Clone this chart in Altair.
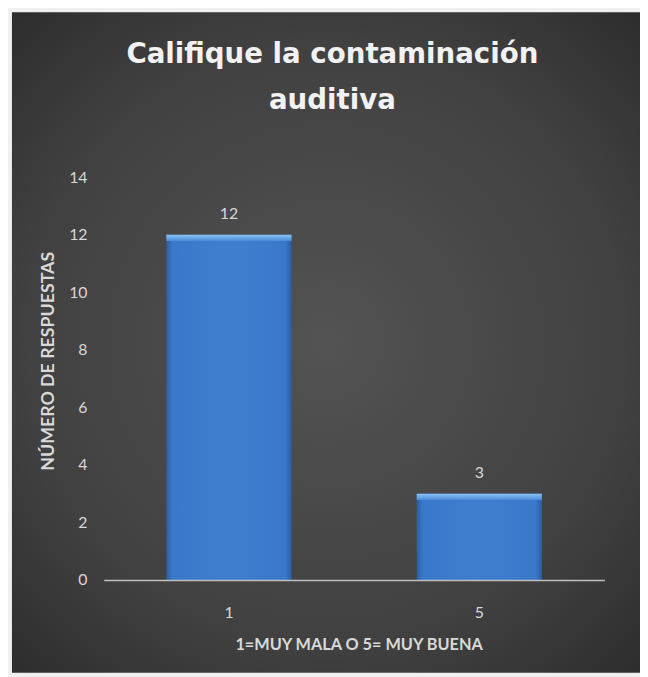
import altair as alt
import pandas as pd

categories = ["1", "5"]
values = [12, 3]
y_ticks = [0, 2, 4, 6, 8, 10, 12, 14]

df = pd.DataFrame({"cat": categories, "val": values})
df["top_hl"] = df["val"] - 0.22

W, H = 507, 408
PAD = {"left": 97, "top": 167, "right": 36, "bottom": 94}

bg_df = pd.DataFrame({"k": [0]})
background = alt.Chart(bg_df).mark_rect(
    color={
        "gradient": "radial",
        "x1": 0.5, "y1": 0.5, "r1": 0.0,
        "x2": 0.5, "y2": 0.5, "r2": 0.75,
        "stops": [
            {"offset": 0, "color": "#535353"},
            {"offset": 0.6, "color": "#414141"},
            {"offset": 1, "color": "#282828"},
        ],
    }
).encode(
    x=alt.value(-93), x2=alt.value(W + PAD["right"]),
    y=alt.value(-167), y2=alt.value(H + PAD["bottom"]),
)

xenc = alt.X(
    "cat:N",
    sort=categories,
    scale=alt.Scale(paddingInner=0.5, paddingOuter=0.25),
    axis=alt.Axis(
        title="1=MUY MALA O 5= MUY BUENA",
        labelAngle=0, zindex=1,
        labelFont="Lato", labelFontSize=16, labelColor="#d9d9d9",
        labelPadding=25, ticks=False,
        domainColor="#bfbfbf", domainWidth=1.5,
        titleFont="Lato", titleFontSize=16.5, titleFontWeight="bold",
        titleColor="#d9d9d9", titlePadding=16, titleX=258,
    ),
)
yscale = alt.Scale(domain=[0, 14], nice=False)

bars = alt.Chart(df).mark_bar(
    color={
        "gradient": "linear",
        "x1": 0, "y1": 0, "x2": 1, "y2": 0,
        "stops": [
            {"offset": 0, "color": "#2c5ea3"},
            {"offset": 0.05, "color": "#3a78cb"},
            {"offset": 0.5, "color": "#3f7ecf"},
            {"offset": 0.95, "color": "#3a78cb"},
            {"offset": 1, "color": "#2c5ea3"},
        ],
    }
).encode(
    x=xenc,
    y=alt.Y(
        "val:Q", scale=yscale,
        axis=alt.Axis(
            title="NÚMERO DE RESPUESTAS",
            values=y_ticks, grid=False, domain=False, ticks=False, zindex=1,
            labelFont="Lato", labelFontSize=16, labelColor="#d9d9d9",
            labelPadding=17,
            titleFont="Lato", titleFontSize=18, titleFontWeight="bold",
            titleColor="#d9d9d9", titlePadding=11, titleY=186,
        ),
    ),
)

highlight = alt.Chart(df).mark_bar(
    color={
        "gradient": "linear",
        "x1": 0, "y1": 0, "x2": 0, "y2": 1,
        "stops": [
            {"offset": 0, "color": "#8cc4f4"},
            {"offset": 1, "color": "#4a8ad8"},
        ],
    }
).encode(
    x=alt.X("cat:N", sort=categories),
    y=alt.Y("val:Q", scale=yscale),
    y2="top_hl:Q",
)

labels = alt.Chart(df).mark_text(
    font="Lato", fontSize=16, color="#d9d9d9", baseline="middle", dy=-21
).encode(
    x=alt.X("cat:N", sort=categories),
    y=alt.Y("val:Q", scale=yscale),
    text="val:Q",
)

chart = alt.layer(background, bars, highlight, labels).properties(
    width=W,
    height=H,
    padding=PAD,
    autosize=alt.AutoSizeParams(type="none"),
    background="#f0f0f0",
    title=alt.TitleParams(
        text=["Califique la contaminación", "auditiva"],
        font="DejaVu Sans", fontSize=28, fontWeight="bold", color="#f2f2f2",
        anchor="middle", lineHeight=47, offset=-126, dx=-22,
        baseline="alphabetic",
    ),
).configure_view(stroke=None)

chart.save("out.html", embed_options={"renderer": "svg", "actions": False})
